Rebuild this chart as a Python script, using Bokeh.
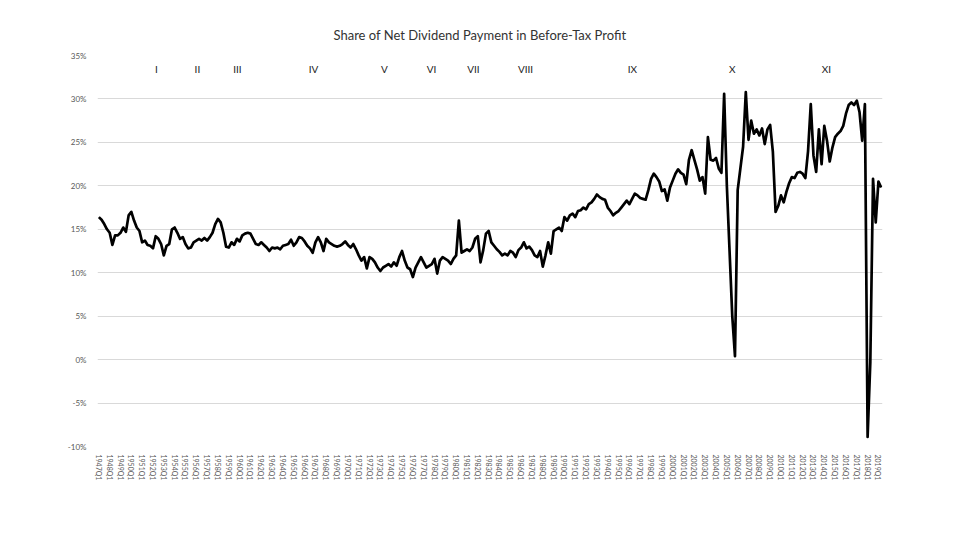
from bokeh.plotting import figure
from bokeh.models import FixedTicker, Range1d
from bokeh.core.properties import value
from bokeh.embed import file_html
from bokeh.resources import INLINE

# Share of net dividend payment in before-tax profit (%), quarterly from 1947Q1
share_1947_1956 = [16.4, 16.1, 15.6, 15.0, 14.6, 13.2, 14.3, 14.3, 14.6, 15.2,
                   14.7, 16.6, 17.0, 16.0, 15.2, 14.8, 13.5, 13.7, 13.2, 13.1,
                   12.8, 14.2, 13.9, 13.3, 12.0, 13.1, 13.3, 15.0, 15.2, 14.6,
                   13.9, 14.1, 13.3, 12.8, 12.9, 13.5, 13.7, 13.9, 13.7, 14.0]
share_1957_1966 = [13.7, 14.1, 14.6, 15.6, 16.2, 15.8, 14.6, 13.0, 12.9, 13.5,
                   13.2, 13.9, 13.6, 14.3, 14.5, 14.6, 14.5, 13.9, 13.3, 13.2,
                   13.5, 13.2, 12.9, 12.5, 12.9, 12.8, 12.9, 12.7, 13.1, 13.2,
                   13.3, 13.8, 13.1, 13.5, 14.1, 14.0, 13.6, 13.1, 12.8, 12.3]
share_1967_1976 = [13.5, 14.1, 13.5, 12.5, 13.9, 13.5, 13.3, 13.1, 13.0, 13.1,
                   13.3, 13.6, 13.2, 12.9, 13.3, 12.7, 12.0, 11.4, 11.8, 10.5,
                   11.8, 11.6, 11.2, 10.6, 10.2, 10.6, 10.8, 11.0, 10.7, 11.2,
                   10.8, 11.8, 12.5, 11.4, 10.6, 10.4, 9.5, 10.6, 11.2, 11.8]
share_1977_1986 = [11.2, 10.6, 10.8, 11.0, 11.6, 9.9, 11.4, 11.8, 11.6, 11.4,
                   11.0, 11.6, 12.0, 16.0, 12.3, 12.5, 12.7, 12.5, 12.9, 13.9,
                   14.2, 11.2, 12.6, 14.5, 14.8, 13.5, 13.1, 12.7, 12.4, 12.0,
                   12.2, 12.0, 12.5, 12.3, 11.8, 12.6, 12.9, 13.5, 12.8, 13.0]
share_1987_1996 = [12.6, 12.0, 11.8, 12.5, 10.7, 12.0, 13.5, 12.2, 14.8, 15.0,
                   15.2, 14.8, 16.4, 16.0, 16.6, 16.8, 16.4, 17.1, 17.2, 17.5,
                   17.3, 17.9, 18.1, 18.5, 19.0, 18.7, 18.5, 18.4, 17.5, 17.1,
                   16.6, 16.9, 17.1, 17.5, 17.9, 18.3, 17.9, 18.5, 19.1, 18.9]
share_1997_2006 = [18.6, 18.5, 18.4, 19.5, 20.8, 21.4, 21.0, 20.5, 19.4, 19.6,
                   18.3, 19.8, 20.6, 21.4, 21.9, 21.5, 21.3, 20.2, 23.0, 24.1,
                   23.0, 21.9, 20.6, 21.0, 19.1, 25.6, 23.0, 22.9, 23.2, 22.0,
                   21.5, 30.6, 20.0, 12.5, 5.0, 0.4, 19.5, 22.0, 24.5, 30.8]
share_2007_2016 = [25.3, 27.5, 26.0, 26.5, 25.8, 26.6, 24.8, 26.5, 27.0, 23.9,
                   17.0, 17.7, 18.9, 18.1, 19.3, 20.3, 21.0, 20.9, 21.5, 21.6,
                   21.4, 20.9, 24.0, 29.4, 23.5, 21.6, 26.5, 22.5, 26.9, 25.2,
                   22.8, 24.4, 25.6, 26.0, 26.3, 26.9, 28.3, 29.3, 29.6, 29.3]
share_2017_2019 = [29.8, 28.5, 25.2, 29.4, -8.9, -0.3, 20.8, 15.8, 20.5, 19.8]

share = (share_1947_1956 + share_1957_1966 + share_1967_1976 + share_1977_1986
         + share_1987_1996 + share_1997_2006 + share_2007_2016 + share_2017_2019)

first_year = 1947
quarters = [f"{first_year + k // 4}Q{k % 4 + 1}" for k in range(len(share))]
q_index = list(range(len(share)))

y_ticks = [-10, -5, 0, 5, 10, 15, 20, 25, 30, 35]
y_tick_labels = [f"{t}%" for t in y_ticks]

cycle_labels = ["I", "II", "III", "IV", "V", "VI", "VII", "VIII", "IX", "X", "XI"]
cycle_pos = [21.3, 36.4, 51.2, 79.3, 105.5, 122.9, 138.4, 157.6, 197.1, 234.0, 268.8]

title_text = "Share of Net Dividend Payment in Before-Tax Profit"

FONT = "Lato"

p = figure(width=944, height=524, output_backend="svg", toolbar_location=None,
           x_range=Range1d(-0.5, len(share) - 0.5), y_range=Range1d(-10, 35),
           min_border_left=97, min_border_right=62, min_border_top=55,
           min_border_bottom=78, title=title_text)
p.outline_line_color = None
p.background_fill_color = "white"
p.border_fill_color = "white"

p.title.align = "left"
p.title.offset = 236
p.title.text_font = FONT
p.title.text_font_size = "13px"
p.title.text_font_style = "normal"
p.title.text_color = "#333333"
p.title.standoff = 25

p.line(q_index, share, line_color="black", line_width=2.7, line_join="round")

# axes
p.yaxis.ticker = FixedTicker(ticks=y_ticks)
p.yaxis.major_label_overrides = {t: lab for t, lab in zip(y_ticks, y_tick_labels)}
p.yaxis.axis_line_color = None
p.yaxis.major_tick_line_color = None
p.yaxis.minor_tick_line_color = None
p.yaxis.major_label_text_font = FONT
p.yaxis.major_label_text_font_size = "8px"
p.yaxis.major_label_text_color = "#595959"
p.yaxis.major_label_standoff = 5

q1_ticks = [i for i in q_index if quarters[i].endswith("Q1")]
p.xaxis.ticker = FixedTicker(ticks=q1_ticks)
p.xaxis.major_label_overrides = {i: quarters[i] for i in q1_ticks}
p.xaxis.major_label_orientation = "vertical"
p.xaxis.axis_line_color = None
p.xaxis.major_tick_line_color = None
p.xaxis.minor_tick_line_color = None
p.xaxis.major_label_text_font = FONT
p.xaxis.major_label_text_font_size = "7px"
p.xaxis.major_label_text_color = "#595959"
p.xaxis.major_label_standoff = 2

p.xgrid.visible = False
p.ygrid.grid_line_color = "#d9d9d9"
p.ygrid.grid_line_width = 1

# cycle labels
p.text(x=cycle_pos, y=[33.4] * len(cycle_pos), text=cycle_labels,
       text_font=value(FONT), text_font_size="10px", text_color="#1a1a1a",
       text_align="center", text_baseline="middle")

open("out.html", "w").write(file_html(p, INLINE))
